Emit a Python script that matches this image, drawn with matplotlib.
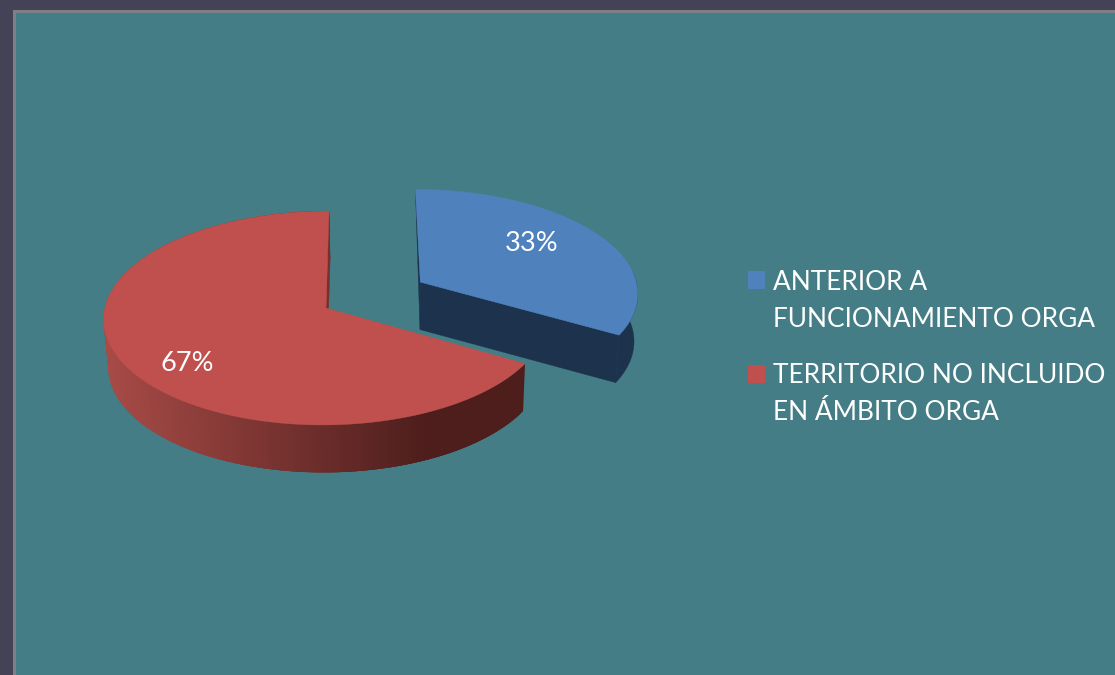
import numpy as np
import matplotlib
matplotlib.use("Agg")
import matplotlib.pyplot as plt
from matplotlib.patches import Polygon, Rectangle
from matplotlib.colors import to_rgb

shares = [1, 2]
legend_labels = ["ANTERIOR A\nFUNCIONAMIENTO ORGA", "TERRITORIO NO INCLUIDO\nEN ÁMBITO ORGA"]

BLUE = "#4F81BD"
RED = "#C0504D"
TEAL = "#447D85"
DEPTH = 47.5
EXPLODE = 0.5

plt.rcParams["font.family"] = ["Lato", "DejaVu Sans"]


# floor plane of the pie seen through a camera, result in image pixels
def project(X, Y):
    w = 1 + 0.0935 * Y
    return 326 + (221 * X + 3.3 * Y) / w, 308 - 106 * Y / w


def extrude(x, y):
    return x - 0.0157 * (x - 400), y + DEPTH


def arc(start, stop, ox=0.0, oy=0.0):
    t = np.radians(np.linspace(start, stop, 240))
    return project(ox + np.sin(t), oy + np.cos(t))


def poly(ax, x, y, color, z, lw=0.3):
    ax.add_patch(Polygon(np.column_stack([x, y]), closed=True, facecolor=color,
                         edgecolor=color if lw else "none", lw=lw, zorder=z))


fig = plt.figure(figsize=(11.15, 6.75), dpi=100, facecolor="#434256")
ax = fig.add_axes([0, 0, 1, 1])
ax.set_xlim(0, 1115)
ax.set_ylim(675, 0)
ax.axis("off")

ax.add_patch(Rectangle((14, 10.5), 1120, 680, facecolor=TEAL, edgecolor="#7F8085", lw=2.2, zorder=0))

total = sum(shares)
end_angle = 360 * shares[0] / total
mid = np.radians(end_angle / 2)
ox, oy = EXPLODE * np.sin(mid), EXPLODE * np.cos(mid)

# blue slice, pulled out of the pie
dark_blue = "#1D334D"
bx, by = arc(0, end_angle, ox, oy)
ax_, ay_ = project(ox, oy)
# only the front part of the rim shows
sx, sy = arc(85, end_angle, ox, oy)
ex, ey = extrude(sx, sy)
poly(ax, np.r_[sx, ex[::-1]], np.r_[sy, ey[::-1]], dark_blue, 1)
apex_ex, apex_ey = extrude(ax_, ay_)
poly(ax, [ax_, bx[-1], ex[-1], apex_ex], [ay_, by[-1], ey[-1], apex_ey], dark_blue, 1)
poly(ax, [bx[0], ax_, apex_ex], [by[0], ay_, apex_ey], dark_blue, 1)
poly(ax, np.r_[ax_, bx], np.r_[ay_, by], BLUE, 2)

# red slice, rim strips overlap the next one so no seams show
rx, ry = arc(end_angle, 360)
ax0, ay0 = project(0, 0)
ex, ey = extrude(rx, ry)
left_c = np.array(to_rgb("#A84B47"))
right_c = np.array(to_rgb("#4D1E1C"))
for i in range(len(rx) - 1):
    j = min(i + 3, len(rx) - 1)
    frac = np.clip((rx[i] - 104) / (430 - 104), 0, 1)
    poly(ax, [rx[i], rx[j], ex[j], ex[i]], [ry[i], ry[j], ey[j], ey[i]],
         left_c + (right_c - left_c) * frac, 3, lw=0)
ax0e, ay0e = extrude(ax0, ay0)
poly(ax, [rx[-1], ax0, ax0e, ex[-1]], [ry[-1], ay0, ay0e, ey[-1]], "#7A2F2C", 3)
poly(ax, np.r_[ax0, rx], np.r_[ay0, ry], RED, 4)

ax.text(532, 241, f"{100 * shares[0] / total:.0f}%", color="white", fontsize=19.5,
        ha="center", va="center_baseline", zorder=6)
ax.text(187, 361, f"{100 * shares[1] / total:.0f}%", color="white", fontsize=19.5,
        ha="center", va="center_baseline", zorder=6)

# legend
for label, color, sq_y, txt_y in zip(legend_labels, [BLUE, RED], [271, 365], [301, 394]):
    ax.add_patch(Rectangle((748, sq_y), 17, 18, facecolor=color, edgecolor="none", zorder=6))
    ax.text(773, txt_y, label, color="white", fontsize=18.9, ha="left", va="center",
            linespacing=1.57, zorder=6)

fig.savefig("out.png", dpi=100, facecolor=fig.get_facecolor())
